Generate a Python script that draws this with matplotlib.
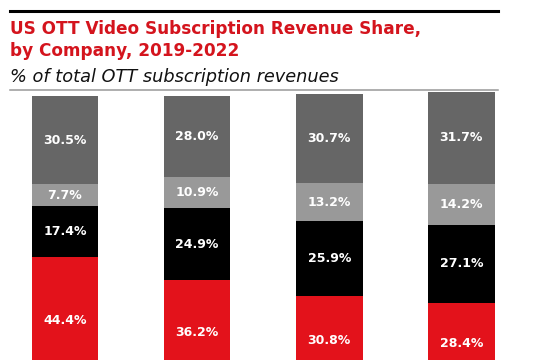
import numpy as np
import matplotlib.pyplot as plt
from matplotlib.lines import Line2D

years = ["2019", "2020", "2021", "2022"]
segments = ["Other A", "Other B", "Other C", "Other D"]  # bottom to top
red_vals = [44.4, 36.2, 30.8, 28.4]
black_vals = [17.4, 24.9, 25.9, 27.1]
light_vals = [7.7, 10.9, 13.2, 14.2]
dark_vals = [30.5, 28.0, 30.7, 31.7]

series = [red_vals, black_vals, light_vals, dark_vals]
colors = ["#e3121b", "#000000", "#999999", "#666666"]

W, H = 537, 360
fig = plt.figure(figsize=(W / 100, H / 100), dpi=100)

ax = fig.add_axes([0, 0, 1, 1 - 90 / H])
x = np.arange(len(years))
bottom = np.zeros(len(years))
for vals, col in zip(series, colors):
    vals = np.array(vals)
    ax.bar(x, vals, width=0.505, bottom=bottom, color=col, edgecolor="none")
    for xi, b, v in zip(x, bottom, vals):
        ax.text(xi, b + v / 2, f"{v:.1f}%", ha="center", va="center",
                color="white", fontsize=9, fontweight="bold", family="DejaVu Sans")
    bottom += vals

ax.set_xlim(-65 / 132.1, (W - 65) / 132.1)
ax.set_ylim(100 - 264 / 2.89, 100 + 6 / 2.89)
ax.axis("off")

# header rules
fig.add_artist(Line2D([10 / W, 498 / W], [1 - 11 / H, 1 - 11 / H],
                      color="black", lw=2.2))
fig.add_artist(Line2D([10 / W, 498 / W], [1 - 90 / H, 1 - 90 / H],
                      color="#999999", lw=1.1))

fig.text(10 / W, 1 - 33.5 / H, "US OTT Video Subscription Revenue Share,",
         color="#d4141d", fontsize=12.2, fontweight="bold", family="DejaVu Sans",
         va="baseline")
fig.text(10 / W, 1 - 56.5 / H, "by Company, 2019-2022",
         color="#d4141d", fontsize=12.2, fontweight="bold", family="DejaVu Sans",
         va="baseline")
fig.text(10 / W, 1 - 81.5 / H, "% of total OTT subscription revenues",
         color="#111111", fontsize=12.75, style="italic", family="DejaVu Sans",
         va="baseline")

fig.savefig("out.png", dpi=100)
